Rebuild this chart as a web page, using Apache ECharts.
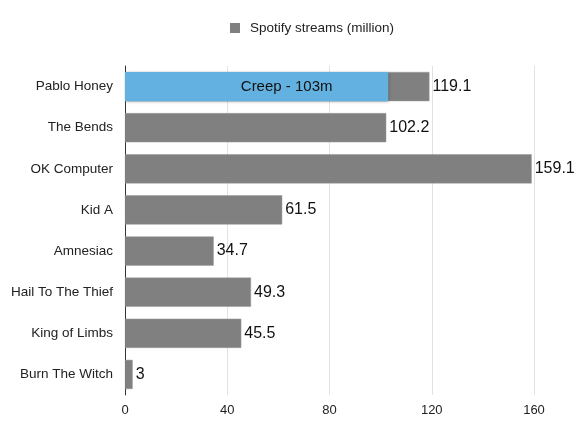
<!DOCTYPE html>
<html>
<head>
<meta charset="utf-8">
<script src="https://cdn.jsdelivr.net/npm/echarts@6/dist/echarts.min.js"></script>
<style>
  html, body { margin: 0; padding: 0; background: #fff; }
  #chart { width: 584px; height: 432px; }
</style>
</head>
<body>
<div id="chart"></div>
<script>
var albums = ["Pablo Honey", "The Bends", "OK Computer", "Kid A", "Amnesiac", "Hail To The Thief", "King of Limbs", "Burn The Witch"];
var streams = [119.1, 102.2, 159.1, 61.5, 34.7, 49.3, 45.5, 3];
var creep = [103, null, null, null, null, null, null, null];
var xTicks = [0, 40, 80, 120, 160];

var font = "'Liberation Sans', Arial, sans-serif";

var option = {
    animation: false,
    textStyle: { fontFamily: font },
    legend: {
        data: ["Spotify streams (million)"],
        top: 16,
        left: 225,
        itemWidth: 10,
        itemHeight: 10,
        icon: 'rect',
        itemStyle: { borderWidth: 0 },
        textStyle: { fontSize: 13.5, color: '#222', fontFamily: font, padding: [0, 0, 0, 5] }
    },
    grid: { left: 125, right: 50, top: 66, bottom: 37 },
    xAxis: {
        type: 'value',
        min: xTicks[0],
        max: xTicks[xTicks.length - 1],
        interval: 40,
        axisLine: { show: false },
        axisTick: { show: false },
        splitLine: { lineStyle: { color: '#e2e2e2' } },
        axisLabel: { color: '#222', fontSize: 13, margin: 9, fontFamily: font }
    },
    yAxis: {
        type: 'category',
        inverse: true,
        data: albums,
        axisLine: { show: true, lineStyle: { color: '#333', width: 1 } },
        axisTick: { show: false },
        axisLabel: { color: '#222', fontSize: 13.5, margin: 12, fontFamily: font }
    },
    series: [
        {
            name: "Spotify streams (million)",
            type: 'bar',
            data: streams,
            barWidth: '71%',
            itemStyle: { color: '#808080', borderColor: '#999', borderWidth: 0.5 },
            label: {
                show: true,
                position: 'right',
                distance: 3,
                color: '#111',
                fontSize: 16,
                fontFamily: font
            },
            z: 2
        },
        {
            name: "Creep",
            type: 'bar',
            data: creep,
            barWidth: '71%',
            barGap: '-100%',
            itemStyle: {
                color: '#63b1e0',
                shadowColor: 'rgba(0,0,0,0.35)',
                shadowBlur: 3,
                shadowOffsetX: 1,
                shadowOffsetY: 1
            },
            label: {
                show: true,
                position: 'inside',
                offset: [30, 0],
                formatter: function (p) { return 'Creep - ' + p.value + 'm'; },
                color: '#111',
                fontSize: 15,
                fontFamily: font
            },
            z: 3
        }
    ]
};

echarts.init(document.getElementById('chart')).setOption(option);
</script>
</body>
</html>
